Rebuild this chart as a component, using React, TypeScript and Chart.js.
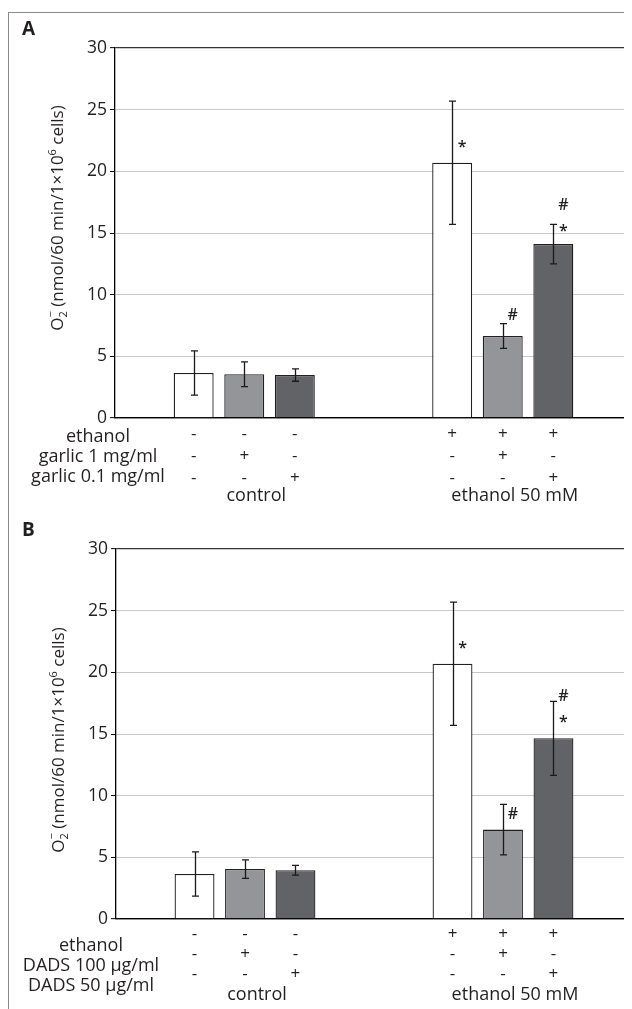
import React, { useEffect, useRef } from 'react';
import { Chart, registerables } from 'chart.js';

Chart.register(...registerables);

const FONT = '"Open Sans", "Noto Sans", sans-serif';
const INK = '#231f20';

// ---------- shared ----------
const groupLabels = ['control', 'ethanol 50 mM'];
const yMin = 0;
const yMax = 30;
const yStep = 5;
const seriesColors = ['#ffffff', '#939598', '#626366'];

// treatment table, bar order: control (none, high, low), ethanol (none, high, low)
const ethanolSigns = ['-', '-', '-', '+', '+', '+'];
const highDoseSigns = ['-', '+', '-', '-', '+', '-'];
const lowDoseSigns = ['-', '-', '+', '-', '-', '+'];

// ---------- panel A (garlic) ----------
const aNoneMean = [3.65, 20.7];
const aNoneErr = [1.8, 5.0];
const aHighMean = [3.55, 6.65];
const aHighErr = [1.0, 1.0];
const aLowMean = [3.48, 14.1];
const aLowErr = [0.5, 1.6];
const aRowLabels = ['ethanol', 'garlic 1 mg/ml', 'garlic 0.1 mg/ml'];
// significance marks: [series, group, text, level in y units]
const aMarks: [number, number, string, number][] = [
  [0, 1, '*', 22.3],
  [1, 1, '#', 8.4],
  [2, 1, '#', 17.35],
  [2, 1, '*', 15.5],
];

// ---------- panel B (DADS) ----------
const bNoneMean = [3.65, 20.7];
const bNoneErr = [1.8, 5.0];
const bHighMean = [4.05, 7.25];
const bHighErr = [0.75, 2.05];
const bLowMean = [3.95, 14.65];
const bLowErr = [0.4, 3.0];
const bRowLabels = ['ethanol', 'DADS 100 µg/ml', 'DADS 50 µg/ml'];
const bMarks: [number, number, string, number][] = [
  [0, 1, '*', 22.3],
  [1, 1, '#', 8.6],
  [2, 1, '#', 18.1],
  [2, 1, '*', 16.3],
];

type PanelCfg = {
  letter: string;
  means: number[][];
  errs: number[][];
  rowLabels: string[];
  marks: [number, number, string, number][];
  width: number;
  height: number;
  padTop: number;
  yWidth: number;
  xHeight: number;
  tickPad: number;
  letterY: number;
  signRows: number[];
  labelRows: number[];
  labelInset: number;
  titleShift: number;
};

const panelA: PanelCfg = {
  letter: 'A',
  means: [aNoneMean, aHighMean, aLowMean],
  errs: [aNoneErr, aHighErr, aLowErr],
  rowLabels: aRowLabels,
  marks: aMarks,
  width: 631,
  height: 492,
  padTop: 35,
  yWidth: 106,
  xHeight: 87,
  tickPad: 67,
  letterY: 22,
  signRows: [16, 38, 60],
  labelRows: [19, 39, 59],
  labelInset: 17,
  titleShift: -15,
};

const panelB: PanelCfg = {
  letter: 'B',
  means: [bNoneMean, bHighMean, bLowMean],
  errs: [bNoneErr, bHighErr, bLowErr],
  rowLabels: bRowLabels,
  marks: bMarks,
  width: 631,
  height: 504,
  padTop: 44,
  yWidth: 107,
  xHeight: 90,
  tickPad: 65,
  letterY: 31,
  signRows: [15, 35, 55],
  labelRows: [27, 47, 67],
  labelInset: 25,
  titleShift: 6,
};

function overlayPlugin(cfg: PanelCfg) {
  return {
    id: 'overlay' + cfg.letter,
    afterDatasetsDraw(chart: any) {
      const ctx = chart.ctx;
      const ys = chart.scales.y;
      ctx.save();
      ctx.strokeStyle = '#1a1a1a';
      ctx.lineWidth = 1.3;
      cfg.errs.forEach((errs, i) => {
        const meta = chart.getDatasetMeta(i);
        meta.data.forEach((bar: any, j: number) => {
          const v = cfg.means[i][j];
          const e = errs[j];
          const x = Math.round(bar.x) + 0.5;
          const y1 = ys.getPixelForValue(v + e);
          const y2 = ys.getPixelForValue(v - e);
          ctx.beginPath();
          ctx.moveTo(x, y1);
          ctx.lineTo(x, y2);
          ctx.moveTo(x - 3.5, y1);
          ctx.lineTo(x + 3.5, y1);
          ctx.moveTo(x - 3.5, y2);
          ctx.lineTo(x + 3.5, y2);
          ctx.stroke();
        });
      });
      // significance marks
      ctx.fillStyle = INK;
      ctx.font = `600 16px ${FONT}`;
      ctx.textAlign = 'center';
      ctx.textBaseline = 'alphabetic';
      cfg.marks.forEach(([s, g, t, level]) => {
        const bar = chart.getDatasetMeta(s).data[g];
        const yp = ys.getPixelForValue(level);
        ctx.fillText(t, bar.x + 10, yp + (t === '*' ? 8.7 : 5.7));
      });
      ctx.restore();
    },
    afterDraw(chart: any) {
      const ctx = chart.ctx;
      const area = chart.chartArea;
      ctx.save();
      ctx.fillStyle = INK;
      // treatment table
      const rows = [ethanolSigns, highDoseSigns, lowDoseSigns];
      ctx.font = `17px ${FONT}`;
      ctx.textAlign = 'center';
      ctx.textBaseline = 'middle';
      rows.forEach((signs, r) => {
        signs.forEach((sg, k) => {
          const g = Math.floor(k / 3);
          const s = k % 3;
          const bar = chart.getDatasetMeta(s).data[g];
          ctx.fillText(sg, bar.x, area.bottom + cfg.signRows[r]);
        });
      });
      ctx.font = `18px ${FONT}`;
      cfg.rowLabels.forEach((lab, r) => {
        ctx.fillText(lab, area.left - cfg.labelInset, area.bottom + cfg.labelRows[r]);
      });
      // panel letter
      ctx.font = `bold 19px ${FONT}`;
      ctx.textAlign = 'left';
      ctx.textBaseline = 'alphabetic';
      ctx.fillText(cfg.letter, 13, cfg.letterY);
      // y-axis title with sub/superscripts
      const big = `17px ${FONT}`;
      const small = `11px ${FONT}`;
      const parts: { t: string; f: string; dy: number; stackNext?: boolean }[] = [
        { t: 'O', f: big, dy: 0 },
        { t: '2', f: small, dy: 4, stackNext: true },
        { t: '\u2212', f: small, dy: -9 },
        { t: ' (nmol/60 min/1\u00d710', f: big, dy: 0 },
        { t: '6', f: small, dy: -7 },
        { t: ' cells)', f: big, dy: 0 },
      ];
      // measure
      let total = 0;
      const widths: number[] = [];
      parts.forEach((p) => {
        ctx.font = p.f;
        widths.push(ctx.measureText(p.t).width);
      });
      for (let i = 0; i < parts.length; i++) {
        if (parts[i].stackNext) {
          total += Math.max(widths[i], widths[i + 1]);
          i++;
        } else total += widths[i];
      }
      const cy = (area.top + area.bottom) / 2 + cfg.titleShift;
      ctx.translate(area.left - 52, cy);
      ctx.rotate(-Math.PI / 2);
      let x = -total / 2;
      for (let i = 0; i < parts.length; i++) {
        const p = parts[i];
        ctx.font = p.f;
        if (p.stackNext) {
          const q = parts[i + 1];
          ctx.fillText(p.t, x, p.dy);
          ctx.font = q.f;
          ctx.fillText(q.t, x, q.dy);
          x += Math.max(widths[i], widths[i + 1]);
          i++;
        } else {
          ctx.fillText(p.t, x, p.dy);
          x += widths[i];
        }
      }
      ctx.restore();
    },
  };
}

function Panel({ cfg, top }: { cfg: PanelCfg; top: number }) {
  const ref = useRef<HTMLCanvasElement | null>(null);
  useEffect(() => {
    if (!ref.current) return;
    const chart = new Chart(ref.current, {
      type: 'bar',
      data: {
        labels: groupLabels,
        datasets: cfg.means.map((m, i) => ({
          data: m,
          backgroundColor: seriesColors[i],
          borderColor: INK,
          borderWidth: 1.3,
          categoryPercentage: 0.587,
          barPercentage: 0.79,
        })),
      },
      options: {
        responsive: false,
        animation: false,
        layout: { padding: { top: cfg.padTop, right: 8, bottom: 0, left: 0 } },
        plugins: { legend: { display: false }, tooltip: { enabled: false } },
        scales: {
          x: {
            type: 'category',
            grid: { display: false, drawTicks: false },
            border: { display: true, color: '#000', width: 1.3 },
            ticks: {
              padding: cfg.tickPad,
              labelOffset: 12,
              color: INK,
              font: { family: FONT, size: 18 },
              maxRotation: 0,
              autoSkip: false,
            },
            afterFit: (s: any) => {
              s.height = cfg.xHeight;
            },
          },
          y: {
            min: yMin,
            max: yMax,
            ticks: {
              stepSize: yStep,
              padding: 3,
              color: INK,
              font: { family: FONT, size: 17.5 },
            },
            grid: {
              color: (c: any) =>
                c.tick && c.tick.value === yMax ? '#333333' : c.tick && c.tick.value === yMin ? '#000' : '#c8c8c8',
              lineWidth: (c: any) => (c.tick && (c.tick.value === yMax || c.tick.value === yMin) ? 1.3 : 1),
              tickColor: '#000',
              tickLength: 5,
              tickWidth: 1,
            },
            border: { display: true, color: '#000', width: 1.3 },
            afterFit: (s: any) => {
              s.width = cfg.yWidth;
            },
          },
        },
      },
      plugins: [overlayPlugin(cfg)],
    } as any);
    return () => chart.destroy();
  }, [cfg]);
  return (
    <canvas
      ref={ref}
      width={cfg.width}
      height={cfg.height}
      style={{ position: 'absolute', left: 1, top, display: 'block' }}
    />
  );
}

export default function App() {
  return (
    <div style={{ position: 'relative', width: 624, height: 1001, overflow: 'hidden' }}>
      <div
        style={{
          position: 'absolute',
          left: 0,
          top: 4,
          width: 700,
          height: 1100,
          border: '1px solid #8a8a8a',
          boxSizing: 'border-box',
        }}
      />
      <Panel cfg={panelA} top={5} />
      <Panel cfg={panelB} top={497} />
    </div>
  );
}
